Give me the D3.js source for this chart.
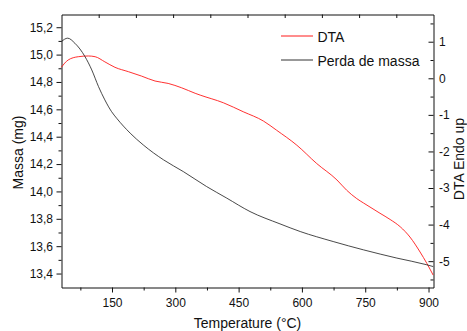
<!DOCTYPE html>
<html>
<head>
<meta charset="utf-8">
<script src="https://cdn.jsdelivr.net/npm/d3@7"></script>
<style>
  html, body { margin: 0; padding: 0; background: #fff; }
  svg { display: block; font-family: "Liberation Sans", Arial, sans-serif; }
</style>
</head>
<body>
<svg id="chart" width="467" height="331"></svg>
<script>
// ---- data ----
const massTemps = [30, 45, 62, 86, 102, 118, 133, 149, 161, 193, 224, 272, 319, 374, 422, 477, 548, 596, 674, 746, 825, 896, 911];
const massValues = [15.095, 15.12, 15.083, 14.985, 14.888, 14.766, 14.669, 14.583, 14.535, 14.426, 14.34, 14.231, 14.145, 14.036, 13.951, 13.853, 13.763, 13.707, 13.634, 13.573, 13.513, 13.464, 13.451];

const dtaTemps = [30, 46, 70, 94, 110, 133, 157, 189, 220, 252, 283, 315, 347, 359, 414, 461, 509, 540, 588, 635, 683, 706, 730, 746, 785, 809, 833, 856, 880, 896, 911];
const dtaValues = [0.30, 0.50, 0.59, 0.61, 0.59, 0.45, 0.30, 0.18, 0.06, -0.075, -0.14, -0.26, -0.41, -0.46, -0.67, -0.915, -1.17, -1.42, -1.83, -2.33, -2.78, -3.06, -3.29, -3.41, -3.69, -3.86, -4.06, -4.34, -4.75, -5.06, -5.38];

const xTicks = [150, 300, 450, 600, 750, 900];
const xMinorTicks = [75, 225, 375, 525, 675, 825];
const massTicks = [13.4, 13.6, 13.8, 14.0, 14.2, 14.4, 14.6, 14.8, 15.0, 15.2];
const massMinorTicks = [13.5, 13.7, 13.9, 14.1, 14.3, 14.5, 14.7, 14.9, 15.1];
const dtaTicks = [-5, -4, -3, -2, -1, 0, 1];
const dtaMinorTicks = [-5.5, -4.5, -3.5, -2.5, -1.5, -0.5, 0.5, 1.5];
const topTicks = [1, 2, 3, 4, 5, 6, 7, 8, 9];

const seriesNames = ["DTA", "Perda de massa"];
const xTitle = "Temperature (°C)";
const yLeftTitle = "Massa (mg)";
const yRightTitle = "DTA Endo up";

// ---- layout ----
const L = 61.5, R = 433.5, T = 14.5, B = 287.5;
const svg = d3.select("#chart");
const ink = "#111";
const fontTick = 12;

const x = d3.scaleLinear().domain([30.3, 911.8]).range([L, R]);
const yM = d3.scaleLinear().domain([13.298, 15.293]).range([B, T]);
const yD = d3.scaleLinear().domain([-5.72, 1.744]).range([B, T]);
const xTop = d3.scaleLinear().domain([0, 10]).range([L, R]);

const comma = v => d3.format(".1f")(v).replace(".", ",");

function styleAxis(g) {
  g.selectAll("path").attr("stroke", ink).attr("stroke-width", 1);
  g.selectAll("line").attr("stroke", ink).attr("stroke-width", 1);
  g.selectAll("text").attr("fill", ink).attr("font-size", fontTick)
    .attr("font-family", "Liberation Sans, Arial, sans-serif");
}

// bottom axis
svg.append("g").attr("transform", `translate(0,${B})`)
  .call(d3.axisBottom(x).tickValues(xTicks).tickSizeInner(5).tickSizeOuter(0).tickPadding(5.5))
  .call(styleAxis);
svg.append("g").attr("transform", `translate(0,${B})`)
  .call(d3.axisBottom(x).tickValues(xMinorTicks).tickSizeInner(3).tickSizeOuter(0).tickFormat(""))
  .call(styleAxis).call(g => g.select("path").remove());

// top axis (inward ticks, no labels)
svg.append("g").attr("transform", `translate(0,${T})`)
  .call(d3.axisTop(xTop).tickValues(topTicks).tickSizeInner(-3.5).tickSizeOuter(0).tickFormat(""))
  .call(styleAxis);

// left axis
svg.append("g").attr("transform", `translate(${L},0)`)
  .call(d3.axisLeft(yM).tickValues(massTicks).tickSizeInner(5).tickSizeOuter(0).tickPadding(3.5).tickFormat(comma))
  .call(styleAxis);
svg.append("g").attr("transform", `translate(${L},0)`)
  .call(d3.axisLeft(yM).tickValues(massMinorTicks).tickSizeInner(3).tickSizeOuter(0).tickFormat(""))
  .call(styleAxis).call(g => g.select("path").remove());

// right axis (inward ticks)
svg.append("g").attr("transform", `translate(${R},0)`)
  .call(d3.axisRight(yD).tickValues(dtaTicks).tickSizeInner(-5).tickSizeOuter(0).tickPadding(5.5)
    .tickFormat(v => String(v)))
  .call(styleAxis);
svg.append("g").attr("transform", `translate(${R},0)`)
  .call(d3.axisRight(yD).tickValues(dtaMinorTicks).tickSizeInner(-3).tickSizeOuter(0).tickFormat(""))
  .call(styleAxis).call(g => g.select("path").remove());

// curves
const massLine = d3.line().x((d, i) => x(massTemps[i])).y(d => yM(d)).curve(d3.curveMonotoneX);
const dtaLine = d3.line().x((d, i) => x(dtaTemps[i])).y(d => yD(d)).curve(d3.curveMonotoneX);

svg.append("path").datum(dtaValues).attr("d", dtaLine)
  .attr("fill", "none").attr("stroke", "#ff1a1a").attr("stroke-width", 0.9);
svg.append("path").datum(massValues).attr("d", massLine)
  .attr("fill", "none").attr("stroke", "#1a1a1a").attr("stroke-width", 0.8);

// legend
const legend = svg.append("g");
const legColors = ["#ff1a1a", "#333"];
const legY = [36, 60];
seriesNames.forEach((name, i) => {
  legend.append("line").attr("x1", 281).attr("x2", 313).attr("y1", legY[i]).attr("y2", legY[i])
    .attr("stroke", legColors[i]).attr("stroke-width", 1);
  legend.append("text").attr("x", 317.5).attr("y", legY[i] + 5.5)
    .attr("font-size", 14).attr("fill", ink).text(name);
});

// titles
svg.append("text").attr("x", (L + R) / 2).attr("y", 327.5).attr("text-anchor", "middle")
  .attr("font-size", 14).attr("fill", ink).text(xTitle);
svg.append("text").attr("transform", `translate(22.5,${(T + B) / 2 + 1.5}) rotate(-90)`)
  .attr("text-anchor", "middle").attr("font-size", 14).attr("fill", ink).text(yLeftTitle);
svg.append("text").attr("transform", `translate(463.5,159) rotate(-90)`)
  .attr("text-anchor", "middle").attr("font-size", 14).attr("fill", ink).text(yRightTitle);
</script>
</body>
</html>
